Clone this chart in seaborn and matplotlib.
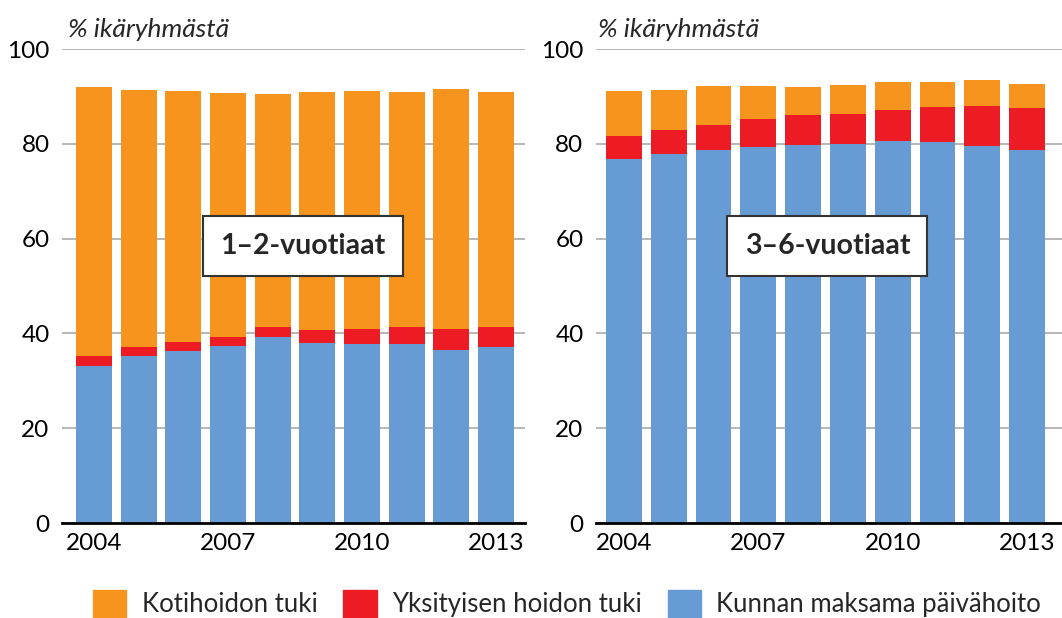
import matplotlib

matplotlib.use("Agg")
import matplotlib.pyplot as plt
import numpy as np
import seaborn as sns
from matplotlib.patches import Patch

# Values (% of age group)
years = [str(y) for y in range(2004, 2014)]
tick_labels = ["2004", "2007", "2010", "2013"]

# 1-2 year olds
young_kunta = [33.1, 35.2, 36.3, 37.3, 39.2, 38.0, 37.8, 37.8, 36.5, 37.1]
young_yksityinen = [2.1, 1.9, 1.9, 1.9, 2.2, 2.7, 3.1, 3.6, 4.4, 4.3]
young_koti = [56.8, 54.2, 52.9, 51.5, 49.1, 50.2, 50.2, 49.5, 50.7, 49.5]

# 3-6 year olds
old_kunta = [76.8, 77.8, 78.7, 79.3, 79.7, 80.0, 80.6, 80.4, 79.5, 78.7]
old_yksityinen = [4.8, 5.1, 5.3, 5.9, 6.4, 6.3, 6.5, 7.4, 8.5, 8.9]
old_koti = [9.5, 8.5, 8.2, 7.0, 5.9, 6.1, 5.9, 5.2, 5.5, 5.0]

panel_titles = ["1–2-vuotiaat", "3–6-vuotiaat"]
series_names = ["Kotihoidon tuki", "Yksityisen hoidon tuki", "Kunnan maksama päivähoito"]

ORANGE = "#F7941D"
RED = "#ED1C24"
BLUE = "#669BD4"
FONT = ["Lato", "DejaVu Sans"]

sns.set_theme(style="white")
plt.rcParams["font.family"] = FONT

fig = plt.figure(figsize=(10.62, 6.18), dpi=100)
ax_left = fig.add_axes([0.0584, 0.1537, 0.436, 0.767])
ax_right = fig.add_axes([0.5612, 0.1537, 0.4388, 0.767])

# axes, series, x-limits, box x-centre
panels = [
    (ax_left, young_kunta, young_yksityinen, young_koti, (-0.716, 9.65), 4.68),
    (ax_right, old_kunta, old_yksityinen, old_koti, (-0.625, 9.78), 4.54),
]

for (ax, kunta, yks, koti, xlim, box_x), title in zip(panels, panel_titles):
    kunta = np.array(kunta)
    lower = kunta + np.array(yks)
    total = lower + np.array(koti)

    # stacked bars drawn from the top layer down
    for vals, col in [(total, ORANGE), (lower, RED), (kunta, BLUE)]:
        sns.barplot(x=years, y=vals, color=col, width=0.8, saturation=1,
                    linewidth=0, edgecolor="none", ax=ax, zorder=2)

    ax.set_ylim(0, 100)
    ax.set_xlim(*xlim)
    ax.set_yticks([0, 20, 40, 60, 80, 100])
    ax.set_xticks([0, 3, 6, 9])
    ax.set_xticklabels(tick_labels)
    ax.set_xlabel("")
    ax.set_ylabel("")
    ax.tick_params(axis="both", length=0, labelsize=17.5, colors="black")
    ax.tick_params(axis="x", pad=7)
    ax.tick_params(axis="y", pad=9)
    ax.yaxis.grid(True, color="#AAAAAA", lw=1.2, zorder=0)
    ax.set_axisbelow(True)
    for side in ["top", "right", "left"]:
        ax.spines[side].set_visible(False)
    ax.spines["bottom"].set_color("black")
    ax.spines["bottom"].set_linewidth(2)
    ax.spines["bottom"].set_zorder(5)

    ax.text(box_x, 58.4, title, ha="center", va="center", fontsize=20.5,
            fontweight="bold", zorder=6,
            bbox=dict(boxstyle="square,pad=0.6", fc="white", ec="#333333", lw=1.5))

fig.text(0.064, 0.953, "% ikäryhmästä", fontsize=19, style="italic", va="center")
fig.text(0.563, 0.953, "% ikäryhmästä", fontsize=19, style="italic", va="center")

handles = [Patch(color=c) for c in [ORANGE, RED, BLUE]]
fig.legend(handles, series_names, loc="center", bbox_to_anchor=(0.534, 0.023),
           ncol=3, frameon=False, fontsize=18.5, handlelength=1.3, handleheight=1.3,
           handletextpad=0.6, columnspacing=1.0, borderpad=0)

fig.savefig("out.png", dpi=100)
